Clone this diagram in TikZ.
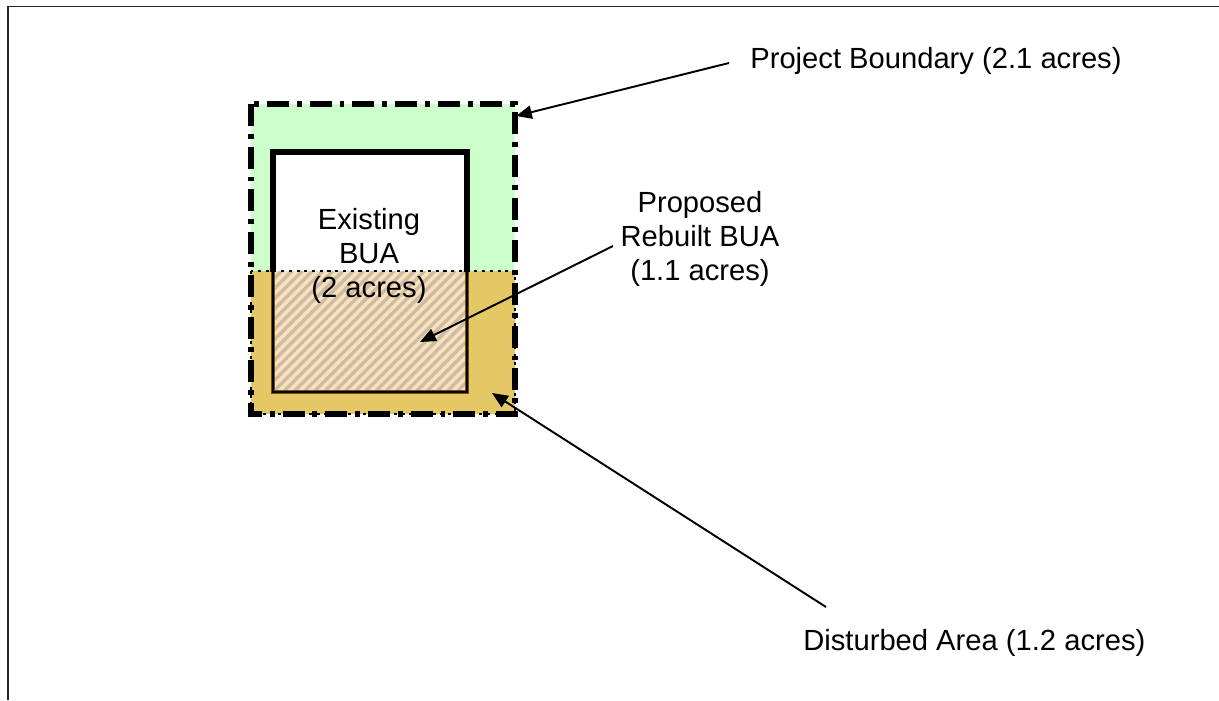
\documentclass[tikz,border=0pt]{standalone}
\usepackage{fontspec}
\setmainfont{Liberation Sans}
\usetikzlibrary{arrows.meta}
\definecolor{pgreen}{HTML}{CCFFCC}
\definecolor{dgold}{HTML}{E3C865}
\definecolor{peach}{HTML}{FCE0B8}
\definecolor{hatchgray}{HTML}{C9BCA8}
\definecolor{bordbrown}{HTML}{7A4E10}
\tikzset{
  lbl/.style={inner sep=0pt, font=\fontsize{16.6}{19.1}\selectfont, align=center},
  pointer/.style={line width=1.1pt, -{Triangle[length=9pt,width=7.5pt]}},
  projbound/.style={line width=2.9pt, dash pattern=on 12.5pt off 4.5pt on 2.8pt off 4.5pt},
  distbound/.style={line width=1.6pt, dash pattern=on 1.8pt off 2.6pt},
}
\begin{document}
\begin{tikzpicture}[x=0.02cm,y=-0.02cm]
\useasboundingbox (0,0) rectangle (1219,700);
% outer frame (only top and left visible)
\draw[line width=1pt, black!85] (8,700) -- (8,6.5) -- (1219,6.5);
% project area fill
\fill[pgreen] (251,104) rectangle (515,271);
% disturbed area fill
\fill[dgold] (251,271) rectangle (515,414);
% existing BUA white upper part
\fill[white] (273,152) rectangle (467,271);
% proposed rebuilt BUA (hatched)
\fill[peach] (273,271) rectangle (467,392);
\begin{scope}
\clip (273,271) rectangle (467,392);
\foreach \k in {-13,...,20}{
  \draw[hatchgray, line width=1.9pt] ({273+10.2*\k},392) -- ({273+10.2*\k+121},271);
}
\end{scope}
\draw[bordbrown, line width=2.6pt] (273,271) -- (273,392) -- (467,392) -- (467,271);
\draw[black, line width=1.1pt] (273,271) -- (273,392) -- (467,392) -- (467,271);
% existing BUA thick outline (upper part)
\draw[black, line width=3.4pt] (273,272) -- (273,152) -- (467,152) -- (467,272);
% disturbed area boundary
\draw[distbound] (251,271) rectangle (515,414);
% project boundary
\draw[projbound] (251,104) rectangle (515,414);
% labels
\node[lbl, anchor=base west] (pb) at (750,68) {Project Boundary (2.1 acres)};
\node[lbl, anchor=base west] (da) at (803,650) {Disturbed Area (1.2 acres)};
\node[lbl] (pr) at (700,239) {Proposed\\Rebuilt BUA\\(1.1 acres)};
\node[lbl] (eb) at (369,256) {Existing\\BUA\\(2 acres)};
% connector end points
\coordinate (pbS) at (729,63);
\coordinate (pbE) at (516,116);
\coordinate (prS) at (613,246);
\coordinate (prE) at (420,342);
\coordinate (daS) at (826,607);
\coordinate (daE) at (492,393);
\draw[pointer] (pbS) -- (pbE);
\draw[pointer] (prS) -- (prE);
\draw[pointer] (daS) -- (daE);
\end{tikzpicture}
\end{document}
